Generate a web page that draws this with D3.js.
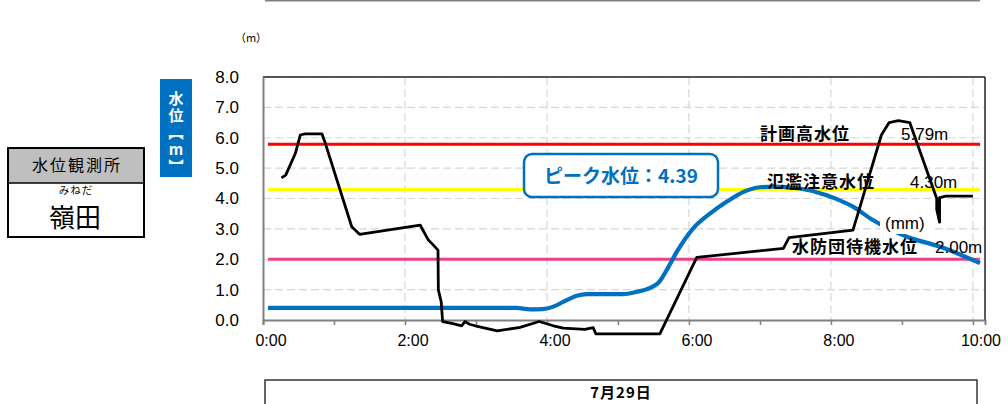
<!DOCTYPE html>
<html>
<head>
<meta charset="utf-8">
<script src="https://cdn.jsdelivr.net/npm/d3@7"></script>
<style>
  html, body { margin: 0; padding: 0; background: #fff; }
  svg { display: block; font-family: "Liberation Sans", "Noto Sans CJK JP", sans-serif; }
  .jp { font-family: "Noto Sans CJK JP", sans-serif; }
  .vert { writing-mode: vertical-rl; text-orientation: upright; }
</style>
</head>
<body>
<svg width="1008" height="404"></svg>
<script>
// water level at 嶺田 (hours from 0:00, metres)
const levelHours = [0.07, 3.57, 3.76, 3.94, 4.09, 4.25, 4.42, 4.56, 5.07, 5.25, 5.40, 5.59, 5.70, 5.83,
  6.06, 6.30, 6.53, 6.77, 7.0, 7.2, 7.56, 7.94, 8.04, 8.31, 8.59, 9.07, 9.54, 10.1];
const levelValues = [0.40, 0.40, 0.35, 0.36, 0.44, 0.62, 0.80, 0.855, 0.855, 0.92, 1.01, 1.28, 1.70, 2.25,
  3.02, 3.51, 3.89, 4.22, 4.37, 4.39, 4.33, 4.11, 4.02, 3.73, 3.29, 2.74, 2.41, 1.87];

// black series
const blackHours = [0.26, 0.32, 0.455, 0.525, 0.59, 0.83, 0.87, 1.25, 1.36, 2.215, 2.33, 2.39, 2.465, 2.47,
  2.51, 2.53, 2.66, 2.80, 2.845, 2.91, 2.99, 3.30, 3.62, 3.89, 4.09, 4.23, 4.535, 4.65, 4.69, 5.59,
  6.11, 7.33, 7.41, 8.31, 8.41, 8.71, 8.82, 8.95, 9.11, 9.49, 9.49, 9.53, 9.53, 9.62, 10.0];
const blackValues = [4.68, 4.77, 5.48, 6.09, 6.13, 6.13, 5.87, 3.07, 2.82, 3.12, 2.63, 2.49, 2.30, 0.99,
  0.60, -0.05, -0.11, -0.19, -0.05, -0.14, -0.19, -0.36, -0.24, -0.05, -0.19, -0.27, -0.31, -0.25, -0.46, -0.46,
  2.06, 2.36, 2.71, 2.96, 3.73, 6.09, 6.50, 6.56, 6.50, 4.00, 3.64, 3.22, 4.03, 4.08, 4.08];

// reference levels
const refNames = ["計画高水位", "氾濫注意水位", "水防団待機水位"];
const refValues = [5.79, 4.30, 2.00];
const refLabels = ["5.79m", "4.30m", "2.00m"];
const refColors = ["#ff0000", "#ffff00", "#ec3f8c"];

const yTicks = [0, 1, 2, 3, 4, 5, 6, 7, 8];
const xTickHours = [0, 2, 4, 6, 8, 10];
const xTickLabels = ["0:00", "2:00", "4:00", "6:00", "8:00", "10:00"];
const peakText = "ピーク水位：4.39";
const dateText = "7月29日";

const svg = d3.select("svg");
const x = d3.scaleLinear().domain([0, 10.17]).range([263, 985]);
const y = d3.scaleLinear().domain([0, 8]).range([320, 77]);
const blue = "#0070c0";

// top rule
svg.append("line").attr("x1", 265).attr("x2", 980).attr("y1", 0.5).attr("y2", 0.5)
  .attr("stroke", "#808080").attr("stroke-width", 2);

// station box
const st = svg.append("g");
st.append("rect").attr("x", 8).attr("y", 148).attr("width", 136).attr("height", 35).attr("fill", "#bfbfbf");
st.append("rect").attr("x", 8).attr("y", 148).attr("width", 136).attr("height", 89)
  .attr("fill", "none").attr("stroke", "#000").attr("stroke-width", 2);
st.append("line").attr("x1", 8).attr("x2", 144).attr("y1", 183).attr("y2", 183).attr("stroke", "#000").attr("stroke-width", 1.5);
st.append("text").attr("class", "jp").attr("x", 77).attr("y", 171).attr("text-anchor", "middle")
  .attr("font-size", 16).attr("letter-spacing", 2).text("水位観測所");
st.append("text").attr("class", "jp").attr("x", 76).attr("y", 194).attr("text-anchor", "middle")
  .attr("font-size", 10.5).attr("letter-spacing", 1).text("みねだ");
st.append("text").attr("class", "jp").attr("x", 75).attr("y", 227).attr("text-anchor", "middle")
  .attr("font-size", 26).text("嶺田");

// y axis title box
svg.append("rect").attr("x", 160).attr("y", 79).attr("width", 32).attr("height", 98).attr("fill", blue);
svg.append("text").attr("class", "jp vert").attr("x", 176).attr("y", 91)
  .attr("font-size", 15).attr("font-weight", "bold").attr("letter-spacing", 2)
  .attr("fill", "#fff").text("水位【m】");
svg.append("text").attr("class", "jp").attr("x", 251).attr("y", 42).attr("text-anchor", "middle")
  .attr("font-size", 11).text("（m）");

// grid
const grid = svg.append("g").attr("stroke", "#d6d6d6").attr("stroke-width", 1.2).attr("stroke-dasharray", "8,4");
grid.selectAll(".h").data(yTicks.slice(1)).join("line")
  .attr("x1", x(0)).attr("x2", x(10.17)).attr("y1", d => y(d)).attr("y2", d => y(d));
grid.selectAll(".v").data(xTickHours.slice(1)).join("line")
  .attr("x1", d => x(d)).attr("x2", d => x(d)).attr("y1", y(8)).attr("y2", y(0));

// frame
svg.append("line").attr("x1", x(0)).attr("x2", x(10.17)).attr("y1", y(8)).attr("y2", y(8))
  .attr("stroke", "#222").attr("stroke-width", 1.5);
svg.append("line").attr("x1", x(10.17)).attr("x2", x(10.17)).attr("y1", y(8)).attr("y2", y(0))
  .attr("stroke", "#222").attr("stroke-width", 1.5);

// x axis
const xAxis = svg.append("g").attr("transform", `translate(0,${y(0)})`)
  .call(d3.axisBottom(x).tickValues(d3.range(0, 11)).tickSize(5).tickFormat(""));
xAxis.select(".domain").attr("stroke", "#7f7f7f").attr("stroke-width", 2);
xAxis.selectAll(".tick line").attr("stroke", "#7f7f7f").attr("stroke-width", 1.5);
svg.append("g").selectAll("text").data(xTickHours).join("text")
  .attr("x", d => x(d) + 8).attr("y", 346).attr("text-anchor", "middle")
  .attr("font-size", 16).text((d, i) => xTickLabels[i]);

// y axis
const yAxis = svg.append("g").attr("transform", `translate(${x(0)},0)`)
  .call(d3.axisLeft(y).tickValues(yTicks).tickSize(0).tickPadding(24).tickFormat(d3.format(".1f")));
yAxis.select(".domain").attr("stroke", "#7f7f7f").attr("stroke-width", 2);
yAxis.selectAll("text").attr("font-size", 17).attr("font-family", "Liberation Sans, sans-serif");

// reference lines
refValues.forEach((v, i) => {
  svg.append("line").attr("x1", x(0.07)).attr("x2", x(10.1)).attr("y1", y(v)).attr("y2", y(v))
    .attr("stroke", refColors[i]).attr("stroke-width", 3);
});

// blue level line
const blueLine = d3.line().x(d => x(d[0])).y(d => y(d[1])).curve(d3.curveMonotoneX);
svg.append("path").datum(levelHours.map((h, i) => [h, levelValues[i]]))
  .attr("d", blueLine).attr("fill", "none").attr("stroke", blue).attr("stroke-width", 4.2)
  .attr("stroke-linejoin", "round");

// black line
const blackLine = d3.line().x(d => x(d[0])).y(d => y(d[1]));
svg.append("path").datum(blackHours.map((h, i) => [h, blackValues[i]]))
  .attr("d", blackLine).attr("fill", "none").attr("stroke", "#000").attr("stroke-width", 2.8)
  .attr("stroke-linejoin", "round");

// reference labels
const nameX = [760, 767, 792];
const labelY = [140, 188, 253];
const valX = [901, 910, 935];
refNames.forEach((n, i) => {
  svg.append("text").attr("class", "jp").attr("x", nameX[i]).attr("y", labelY[i])
    .attr("font-size", 17).attr("font-weight", "bold").attr("letter-spacing", 1).text(n);
  svg.append("text").attr("x", valX[i]).attr("y", labelY[i])
    .attr("font-size", 17).text(refLabels[i]);
});

// (mm) label with white background
svg.append("rect").attr("x", 880).attr("y", 211).attr("width", 52).attr("height", 23).attr("fill", "#fff");
svg.append("text").attr("x", 885).attr("y", 229).attr("font-size", 17).text("(mm)");

// peak callout
svg.append("rect").attr("x", 524).attr("y", 154).attr("width", 194).attr("height", 43)
  .attr("rx", 8).attr("fill", "#fff").attr("stroke", blue).attr("stroke-width", 2.5);
svg.append("text").attr("class", "jp").attr("x", 621).attr("y", 183).attr("text-anchor", "middle")
  .attr("font-size", 19).attr("font-weight", "bold").attr("fill", blue).text(peakText);

// date box
svg.append("rect").attr("x", 265).attr("y", 380).attr("width", 712).attr("height", 34)
  .attr("fill", "none").attr("stroke", "#333").attr("stroke-width", 1.5);
svg.append("text").attr("class", "jp").attr("x", 621).attr("y", 398).attr("text-anchor", "middle")
  .attr("font-size", 15).attr("font-weight", "bold").attr("letter-spacing", 1).text(dateText);
</script>
</body>
</html>
